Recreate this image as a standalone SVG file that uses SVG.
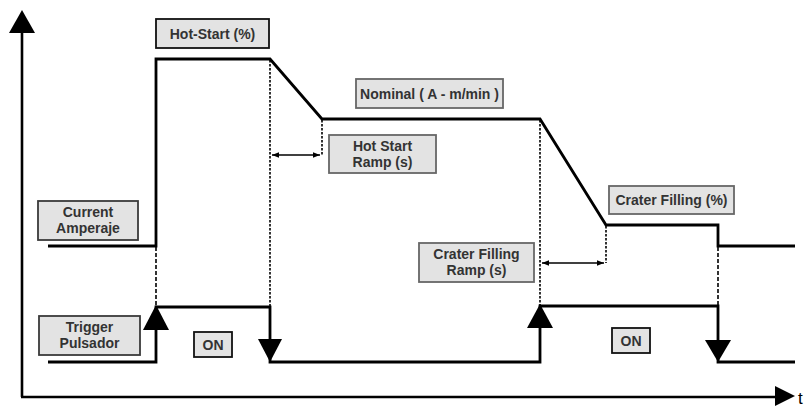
<svg xmlns="http://www.w3.org/2000/svg" width="807" height="407" viewBox="0 0 807 407">
<defs>
<marker id="ah" viewBox="0 0 10 10" refX="10" refY="5" markerWidth="7" markerHeight="7" orient="auto-start-reverse" markerUnits="userSpaceOnUse">
<path d="M0,1 L10,5 L0,9 Z" fill="#000"/>
</marker>
<style>
.wave{fill:none;stroke:#000;stroke-width:2.8;stroke-linejoin:miter}
.axis{fill:none;stroke:#000;stroke-width:2.6}
.dot{fill:none;stroke:#000;stroke-width:1.6;stroke-dasharray:2.5,1.5}
.dash{fill:none;stroke:#000;stroke-width:1.6;stroke-dasharray:4,2}
.dim{fill:none;stroke:#000;stroke-width:1.4}
.tri{fill:#000}
.box{fill:#e3e3e3;stroke:#3a3a3a;stroke-width:1.8}
.lbl{font-family:"Liberation Sans",Arial,sans-serif;font-size:14px;font-weight:bold;fill:#333;text-anchor:middle}
</style>
</defs>
<rect width="807" height="407" fill="#fff"/>
<g id="axes">
<line class="axis" x1="22" y1="30" x2="22" y2="397"/>
<polygon class="tri" points="22,10 9,33 35,33"/>
<line class="axis" x1="21" y1="397" x2="778" y2="397"/>
<polygon class="tri" points="795,396 775,386 775,406"/>
<text x="798" y="404" style="font-family:'Liberation Sans',Arial,sans-serif;font-size:17px;fill:#000">t</text>
</g>
<g id="connectors">
<polyline class="wave" points="48,246 156,246 156,59 270,59 322,119 540,119 606,225 718,225 718,246 795,246"/>
<polyline class="wave" points="48,362 156,362 156,307 270,307 270,362 540,362 540,306 718,306 718,362 795,362"/>
<polygon class="tri" points="156,305 143,330 169,330"/>
<polygon class="tri" points="270,362 258,339 282,339"/>
<polygon class="tri" points="540,304 527,328 553,328"/>
<polygon class="tri" points="718,362 705,340 731,340"/>
<line class="dash" x1="156" y1="247" x2="156" y2="306"/>
<line class="dot" x1="270" y1="60" x2="270" y2="306"/>
<line class="dot" x1="322" y1="120" x2="322" y2="155"/>
<line class="dot" x1="540" y1="120" x2="540" y2="305"/>
<line class="dot" x1="606" y1="226" x2="606" y2="263"/>
<line class="dash" x1="718" y1="247" x2="718" y2="306"/>
<line class="dim" x1="272" y1="155" x2="320" y2="155" marker-start="url(#ah)" marker-end="url(#ah)"/>
<line class="dim" x1="542" y1="263" x2="604" y2="263" marker-start="url(#ah)" marker-end="url(#ah)"/>
</g>
<g id="hot-start">
<rect class="box" x="156" y="19" width="113" height="29" style="stroke:#111"/>
<text class="lbl" x="212.5" y="39">Hot-Start (%)</text>
</g>
<g id="nominal">
<rect class="box" x="356" y="79" width="147" height="29" style="stroke:#666"/>
<text class="lbl" x="429.5" y="99">Nominal ( A - m/min )</text>
</g>
<g id="hot-start-ramp">
<rect class="box" x="329" y="135" width="107" height="38" style="stroke:#666"/>
<text class="lbl" x="382.5" y="151">Hot Start</text>
<text class="lbl" x="382.5" y="167">Ramp (s)</text>
</g>
<g id="current">
<rect class="box" x="38" y="201" width="100" height="39"/>
<text class="lbl" x="88" y="217">Current</text>
<text class="lbl" x="88" y="233">Amperaje</text>
</g>
<g id="trigger">
<rect class="box" x="39" y="316" width="101" height="39"/>
<text class="lbl" x="89.5" y="332">Trigger</text>
<text class="lbl" x="89.5" y="348">Pulsador</text>
</g>
<g id="on1">
<rect class="box" x="194" y="332" width="38" height="25" style="stroke:#111"/>
<text class="lbl" x="213" y="350">ON</text>
</g>
<g id="crater-ramp">
<rect class="box" x="419" y="243" width="115" height="39" style="stroke:#666"/>
<text class="lbl" x="476.5" y="259">Crater Filling</text>
<text class="lbl" x="476.5" y="275">Ramp (s)</text>
</g>
<g id="crater">
<rect class="box" x="609" y="186" width="125" height="28" style="stroke:#666"/>
<text class="lbl" x="671.5" y="205">Crater Filling (%)</text>
</g>
<g id="on2">
<rect class="box" x="612" y="328" width="38" height="25" style="stroke:#111"/>
<text class="lbl" x="631" y="346">ON</text>
</g>
</svg>
